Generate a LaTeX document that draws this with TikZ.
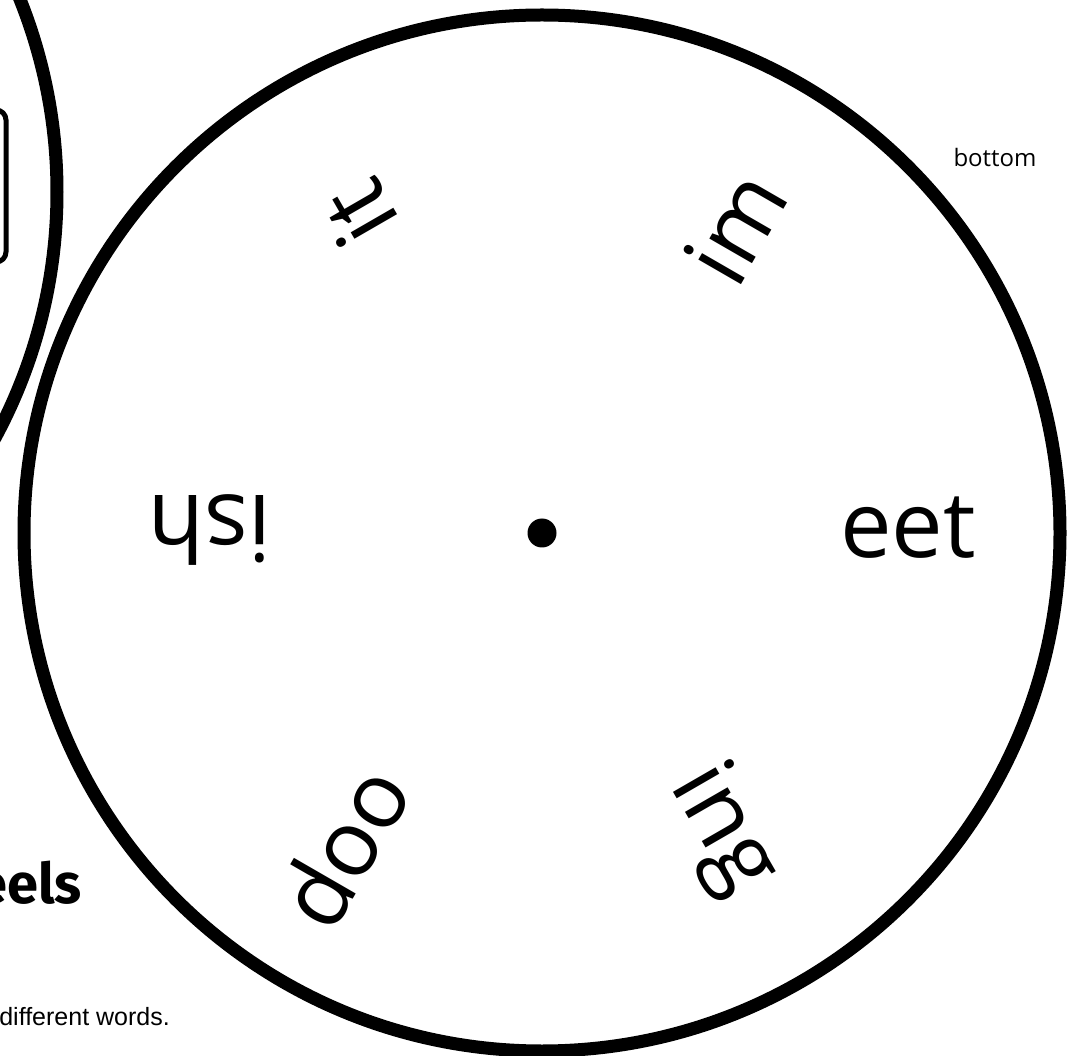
\documentclass[tikz,border=0pt]{standalone}
\usepackage{fontspec}
\newfontfamily\wheelfont{Open Sans}
\newfontfamily\titlefont{Fira Sans}
\newfontfamily\notefont{Liberation Sans}
\usetikzlibrary{positioning}
\tikzset{
  wheelrim/.style={line width=13pt, draw=black},
  windowbox/.style={line width=5pt, draw=black, rounded corners=10pt},
  wordnode/.style={inner sep=0pt, font=\wheelfont\fontsize{92}{96}\selectfont},
  sidenote/.style={inner sep=0pt, font=\wheelfont\fontsize{24}{28}\selectfont},
  titlenode/.style={inner sep=0pt, font=\titlefont\bfseries\fontsize{56}{60}\selectfont},
  helpnode/.style={inner sep=0pt, font=\notefont\fontsize{25}{29}\selectfont}
}

\begin{document}
\begin{tikzpicture}[x=1pt, y=-1pt]
      \clip (0,0) rectangle (1080,1056);
      \fill[white] (0,0) rectangle (1080,1056);
      % top wheel, only partly on the page
      \draw[wheelrim] (-461,192) circle (518);
      \draw[windowbox] (-60,110) rectangle (6,262);
      % bottom wheel
      \coordinate (hub) at (542,533);
      \draw[wheelrim] (hub) circle (518);
      \fill (hub) circle (14.5);
      \node[wordnode] (eet) at (908,528) {eet};
      \node[wordnode, rotate=60] (im) at (735,227) {im};
      \node[wordnode, rotate=120] (it) at (359,214) {it};
      \node[wordnode, rotate=180] (ish) at (210,530) {ish};
      \node[wordnode, rotate=240] (oop) at (343,846) {oop};
      \node[wordnode, rotate=300] (ing) at (722,830) {ing};
      \node[sidenote] (side) at (995,158) {bottom};
      \node[titlenode, anchor=base east] (title) at (82,903) {eels};
      \node[helpnode, anchor=base east] (help) at (170,1025) {different words.};
    \end{tikzpicture}
\end{document}
